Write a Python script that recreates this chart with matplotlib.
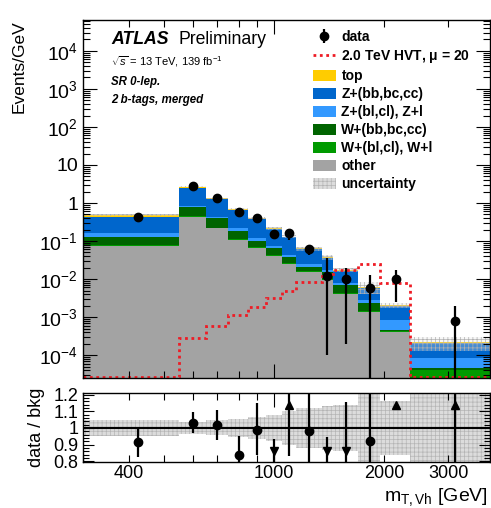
import numpy as np
import matplotlib
matplotlib.use("Agg")
import matplotlib.pyplot as plt
from matplotlib.patches import Patch
from matplotlib.lines import Line2D
from matplotlib.ticker import FixedLocator, FuncFormatter, LogLocator, NullFormatter, MultipleLocator

plt.rcParams['font.family'] = ['Liberation Sans', 'DejaVu Sans']
plt.rcParams['mathtext.fontset'] = 'custom'
plt.rcParams['mathtext.rm'] = 'Liberation Sans'
plt.rcParams['mathtext.it'] = 'Liberation Sans:italic'
plt.rcParams['mathtext.bf'] = 'Liberation Sans:bold'
plt.rcParams['hatch.linewidth'] = 0.5

# ==========================
# DATA (events / GeV)
# ==========================
edges = np.array([300, 550, 650, 750, 850, 950, 1050, 1150, 1350, 1450, 1700, 1950, 2350, 3900])

other = np.array([0.074, 0.436, 0.216, 0.106, 0.064, 0.040, 0.0245, 0.0155, 0.0094, 0.0040, 0.00138, 0.00041, 0.000005])
w_lf = np.array([0.004, 0.02, 0.01, 0.006, 0.004, 0.003, 0.002, 0.001, 0.0006, 0.0003, 0.0001, 0.00003, 0.000035])
w_hf = np.array([0.052, 0.31, 0.174, 0.075, 0.034, 0.021, 0.0105, 0.0045, 0.0052, 0.0026, 0.0008, 0.00002, 0.000005])
z_lf = np.array([0.030, 0.06, 0.036, 0.029, 0.016, 0.010, 0.006, 0.0038, 0.0018, 0.0008, 0.0005, 0.00037, 0.000038])
z_hf = np.array([0.28, 1.6, 0.81, 0.434, 0.262, 0.133, 0.082, 0.0372, 0.019, 0.0083, 0.0032, 0.00117, 0.000127])
top = np.array([0.04, 0.25, 0.08, 0.05, 0.02, 0.009, 0.005, 0.002, 0.001, 0.0013, 0.0003, 0.00007, 0.00001])

bkg_unc = np.array([0.05, 0.035, 0.045, 0.055, 0.065, 0.08, 0.10, 0.12, 0.13, 0.14, 0.35, 0.16, 0.40])

data = np.array([0.44, 2.76, 1.35, 0.588, 0.394, 0.156, 0.158, 0.063, 0.012, 0.0098, 0.0058, 0.0098, 0.00079])
data_up = np.array([0.044, 0.17, 0.12, 0.08, 0.065, 0.045, 0.045, 0.016, 0.023, 0.0102, 0.007, 0.0075, 0.00116])
data_dn = np.array([0.044, 0.17, 0.12, 0.075, 0.06, 0.04, 0.05, 0.019, 0.0119, 0.0096, 0.0058, 0.0073, 0.00079])

hvt = np.array([0.0, 2.75e-4, 5.8e-4, 1.13e-3, 1.87e-3, 3.1e-3, 4.9e-3, 8.5e-3, 0.0135, 0.0175, 0.0255, 0.0077, 0.0])

ymin, ymax = 2.5e-5, 6.5e4

fig = plt.figure(figsize=(4.91, 5.08), dpi=100)
ax = fig.add_axes([83/491, 1-378/508, (490-83)/491, (378-20)/508])
ax2 = fig.add_axes([83/491, 1-462/508, (490-83)/491, (462-393)/508])

# stacked background
stack = [(other, '#a3a3a3'),
         (w_lf, '#009a00'),
         (w_hf, '#006400'),
         (z_lf, '#3399ff'),
         (z_hf, '#0066cc'),
         (top, '#ffcc00')]
cum = np.zeros(len(other))
for vals, col in stack:
    new = cum + vals
    ax.stairs(new, edges, baseline=np.maximum(cum, 1e-8), fill=True, color=col, lw=0)
    cum = new
total = cum

ax.stairs(total * (1 + bkg_unc), edges, baseline=total * (1 - np.minimum(bkg_unc, 0.95)),
          fill=True, facecolor=(0.9, 0.9, 0.9, 0.3), edgecolor='#b0b0b0', hatch='++++', lw=0)

ax.stairs(np.maximum(hvt, ymin * 1.06), edges, baseline=None, color='#ee1c25',
          ls=(0, (1, 1.3)), lw=2)

centers = (edges[:-1] + edges[1:]) / 2
lo = np.minimum(data_dn, data * 0.999)
eb = ax.errorbar(centers, data, yerr=[lo, data_up], fmt='o', color='k', ms=6,
                 elinewidth=1.6, capsize=0, label='data')

ax.set_xscale('log')
ax.set_yscale('log')
ax.set_xlim(edges[0], edges[-1])
ax.set_ylim(ymin, ymax)

def ylab(v, pos):
    n = int(round(np.log10(v)))
    if n == 0:
        return '1'
    if n == 1:
        return '10'
    return r'$10^{%d}$' % n

ax.yaxis.set_major_locator(FixedLocator([10.0**k for k in range(-4, 5)]))
ax.yaxis.set_major_formatter(FuncFormatter(ylab))
ax.yaxis.set_minor_locator(LogLocator(base=10, subs=np.arange(2, 10), numticks=30))
ax.yaxis.set_minor_formatter(NullFormatter())
ax.set_ylabel('Events/GeV', fontsize=12.5, loc='top', labelpad=9)

# ratio panel
ratio = data / total
r_up = data_up / total
r_dn = lo / total
ax2.stairs(1 + bkg_unc, edges, baseline=1 - bkg_unc, fill=True, facecolor='#dcdcdc',
           edgecolor='#b4b4b4', hatch='++++', lw=0)
ax2.axhline(1, color='k', lw=1.5)
ax2.vlines(centers, ratio - r_dn, ratio + r_up, color='k', lw=1.6)
inr = (ratio >= 0.8) & (ratio <= 1.2)
ax2.plot(centers[inr], ratio[inr], 'o', color='k', ms=6)
ax2.plot(centers[ratio > 1.2], np.full((ratio > 1.2).sum(), 1.14), '^', color='k', ms=6)
ax2.plot(centers[ratio < 0.8], np.full((ratio < 0.8).sum(), 0.86), 'v', color='k', ms=6)

ax2.set_xscale('log')
ax2.set_xlim(edges[0], edges[-1])
ax2.set_ylim(0.795, 1.21)
ax2.yaxis.set_major_locator(FixedLocator([0.8, 0.9, 1.0, 1.1, 1.2]))
ax2.yaxis.set_major_formatter(FuncFormatter(lambda v, p: '%g' % round(v, 2)))
ax2.yaxis.set_minor_locator(MultipleLocator(0.02))
ax2.set_ylabel('data / bkg', fontsize=13, labelpad=6)

xlabels = {400: '400', 1000: '1000', 2000: '2000', 3000: '3000'}
for a in (ax, ax2):
    a.xaxis.set_major_locator(FixedLocator([1000]))
    a.xaxis.set_minor_locator(FixedLocator([300, 400, 500, 600, 700, 800, 900, 2000, 3000]))
    a.tick_params(which='both', direction='in', top=True, right=True, width=0.8)
    a.tick_params(which='major', length=10)
    a.tick_params(which='minor', length=5)
    for s in a.spines.values():
        s.set_linewidth(1.0)
ax.tick_params(axis='y', labelsize=14)
ax.xaxis.set_major_formatter(NullFormatter())
ax.xaxis.set_minor_formatter(NullFormatter())
fmt = FuncFormatter(lambda v, p: xlabels.get(int(round(v)), ''))
ax2.xaxis.set_major_formatter(fmt)
ax2.xaxis.set_minor_formatter(fmt)
ax2.tick_params(axis='x', which='both', labelsize=13, pad=2)
ax2.tick_params(axis='y', labelsize=13)
ax2.tick_params(axis='y', which='major', length=8)
ax2.tick_params(axis='y', which='minor', length=4)

fig.text(488/491, 0.013, r'$\mathrm{m}_{\mathrm{T,Vh}}$ [GeV]', fontsize=14, ha='right', va='baseline')

# labels
fig.text(111/491, 1-40/508, 'ATLAS', fontsize=12.7, fontweight='bold', fontstyle='italic', va='center')
fig.text(179/491, 1-40/508, 'Preliminary', fontsize=12.7, va='center')
fig.text(111/491, 1-62/508, r'$\sqrt{s}$ = 13 TeV, 139 fb$^{-1}$', fontsize=8, va='center')
fig.text(111/491, 1-82/508, 'SR 0-lep.', fontsize=8.3, fontweight='bold', fontstyle='italic', va='center')
fig.text(111/491, 1-100/508, '2 b-tags, merged', fontsize=8.3, fontweight='bold', fontstyle='italic', va='center')

handles = [eb,
           Line2D([], [], color='#ee1c25', ls=(0, (1, 1.3)), lw=2),
           Patch(facecolor='#ffcc00'),
           Patch(facecolor='#0066cc'),
           Patch(facecolor='#3399ff'),
           Patch(facecolor='#006400'),
           Patch(facecolor='#009a00'),
           Patch(facecolor='#a3a3a3'),
           Patch(facecolor='#dcdcdc', edgecolor='#b4b4b4', hatch='++++', lw=0)]
labels = ['data', r'2.0 TeV HVT, $\mathbf{\mu}$ = 20', 'top', 'Z+(bb,bc,cc)', 'Z+(bl,cl), Z+l',
          'W+(bb,bc,cc)', 'W+(bl,cl), W+l', 'other', 'uncertainty']
fig.legend(handles, labels, loc='upper left', bbox_to_anchor=(313/491, 1-30/508),
           frameon=False, prop={'weight': 'bold', 'size': 10}, handlelength=1.65,
           handleheight=0.85, handletextpad=0.4, labelspacing=0.29, borderpad=0,
           borderaxespad=0)

fig.savefig('out.png', dpi=100)
